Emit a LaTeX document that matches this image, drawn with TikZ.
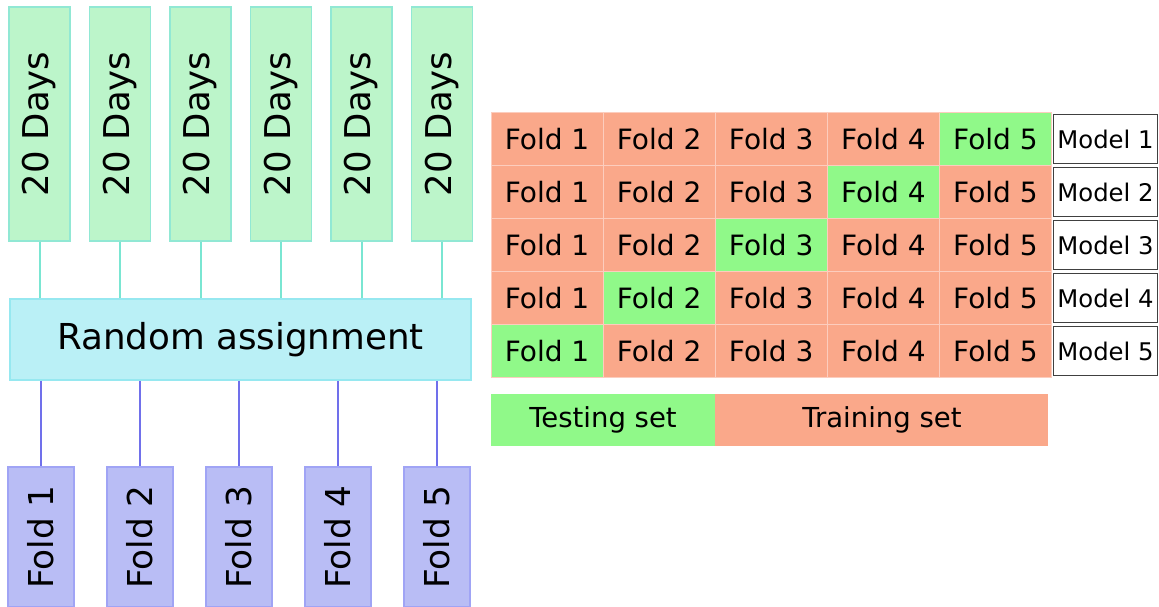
\documentclass[tikz,border=0pt]{standalone}
\usepackage{fontspec}
\setmainfont{DejaVu Sans}
\usepackage{graphicx}
\definecolor{daysfill}{RGB}{188,245,202}
\definecolor{daysdraw}{RGB}{145,232,212}
\definecolor{tealline}{RGB}{122,230,210}
\definecolor{rafill}{RGB}{186,240,246}
\definecolor{radraw}{RGB}{150,232,240}
\definecolor{foldfill}{RGB}{185,189,245}
\definecolor{folddraw}{RGB}{160,164,245}
\definecolor{blueline}{RGB}{112,112,235}
\definecolor{salmon}{RGB}{250,168,138}
\definecolor{testgreen}{RGB}{144,249,137}
\definecolor{cellline}{RGB}{252,205,190}
\tikzset{
  daysbox/.style={draw=daysdraw, fill=daysfill, line width=1.5pt, inner sep=0pt,
    minimum width=61pt, minimum height=234pt, font=\fontsize{35.5}{42}\selectfont},
  rabox/.style={draw=radraw, fill=rafill, line width=1.5pt, inner sep=0pt,
    minimum width=461pt, minimum height=81pt, font=\fontsize{35.7}{42}\selectfont},
  foldbox/.style={draw=folddraw, fill=foldfill, line width=1.5pt, inner sep=0pt,
    minimum width=66pt, minimum height=140pt, font=\fontsize{34.3}{40}\selectfont},
  tline/.style={draw=tealline, line width=2pt},
  bline/.style={draw=blueline, line width=2pt},
  cell/.style={fill=salmon, draw=cellline, line width=1pt, inner sep=0pt,
    minimum width=112pt, minimum height=53pt, font=\fontsize{28}{33}\selectfont},
  testcell/.style={cell, fill=testgreen},
  modelbox/.style={draw=black!75, fill=white, line width=1.5pt, inner sep=0pt,
    minimum width=104pt, minimum height=49pt, font=\fontsize{24.3}{29}\selectfont},
  legend/.style={inner sep=0pt, minimum height=52pt, font=\fontsize{27.5}{32}\selectfont},
}
\begin{document}
\begin{tikzpicture}[x=1pt,y=-1pt]
\useasboundingbox (0,0) rectangle (1159,607);
% top day boxes
\foreach \i/\x in {1/39.5,2/120,3/200.5,4/281,5/361.5,6/442}{
  \node[daysbox] (d\i) at (\x,124) {\rotatebox{90}{20 Days}};
}
\node[rabox] (ra) at (240.5,339.5) {Random assignment};
\foreach \i in {1,...,6}{
  \draw[tline] (d\i.south) -- (d\i.south |- ra.north);
}
% bottom fold boxes
\foreach \i/\x in {1/41,2/140,3/239,4/338,5/437}{
  \node[foldbox] (f\i) at (\x,537) {\rotatebox{90}{Fold \i}};
  \draw[bline] (f\i.north |- ra.south) -- (f\i.north);
}
% table
\foreach \r in {1,...,5}{
  \foreach \c in {1,...,5}{
    \pgfmathtruncatemacro{\g}{6-\r}
    \ifnum\c=\g
      \node[testcell] (c\r\c) at ({547+112.1*(\c-1)},{139.2+52.9*(\r-1)}) {Fold \c};
    \else
      \node[cell] (c\r\c) at ({547+112.1*(\c-1)},{139.2+52.9*(\r-1)}) {Fold \c};
    \fi
  }
  \node[modelbox] (m\r) at (1105.5,{139+53*(\r-1)}) {Model \r};
}
% legend
\node[legend, fill=testgreen, minimum width=224pt] (test) at (603,420) {Testing set};
\node[legend, fill=salmon, minimum width=333pt, anchor=west] (train) at (test.east) {Training set};
\end{tikzpicture}
\end{document}
